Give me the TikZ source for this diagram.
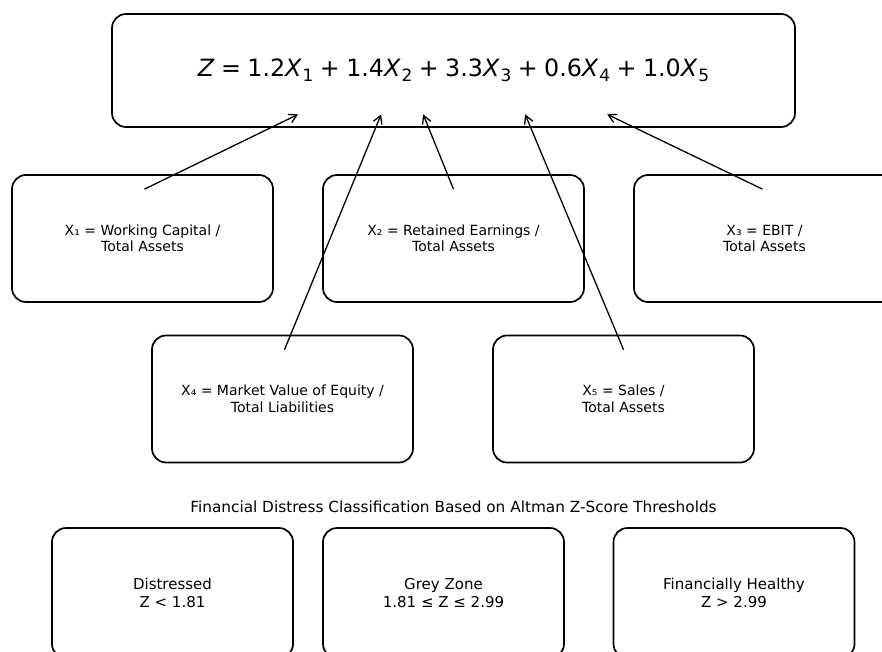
\documentclass[tikz,border=0pt]{standalone}
\usepackage{fontspec}
\setmainfont{DejaVu Sans}
\usetikzlibrary{arrows.meta,calc}
\newcommand{\Xsub}[1]{\textit{X}\kern0.03em\raisebox{-0.22em}{\fontsize{17}{17}\selectfont #1}}
\newcommand{\opsp}{\hspace{0.27em}}
\tikzset{
  box/.style={draw=black, line width=1.7pt, rounded corners=14pt, inner sep=0pt,
    align=center, font=\fontsize{14}{16.5}\selectfont},
  varbox/.style={box, minimum width=261pt, minimum height=127pt},
  zonebox/.style={box, minimum width=241pt, minimum height=130pt, font=\fontsize{15}{18}\selectfont},
  link/.style={line width=1.3pt, -{Straight Barb[length=8pt,width=9pt,line width=1.3pt]}},
}
\begin{document}
\begin{tikzpicture}[x=1pt,y=-1pt]
\useasboundingbox (0,0) rectangle (882,652);
\clip (0,0) rectangle (882,652);
% formula box
\node[box, minimum width=683pt, minimum height=113pt, font=\fontsize{23.8}{28}\selectfont] (top) at (453.5,70.5)
  {\textit{Z}\opsp=\opsp1.2\Xsub{1}\opsp+\opsp1.4\Xsub{2}\opsp+\opsp3.3\Xsub{3}\opsp+\opsp0.6\Xsub{4}\opsp+\opsp1.0\Xsub{5}};
% variable boxes
\node[varbox] (x1) at (142.5,238.5) {X₁ = Working Capital /\\Total Assets};
\node[varbox] (x2) at (453.5,238.5) {X₂ = Retained Earnings /\\Total Assets};
\node[varbox] (x3) at (764.5,238.5) {X₃ = EBIT /\\Total Assets};
\node[varbox] (x4) at (282.5,399) {X₄ = Market Value of Equity /\\Total Liabilities};
\node[varbox] (x5) at (623.5,399) {X₅ = Sales /\\Total Assets};
% title
\node[font=\fontsize{15.3}{18}\selectfont] (title) at (453.5,507) {Financial Distress Classification Based on Altman Z-Score Thresholds};
% zone boxes
\node[zonebox] (z1) at (172.5,593) {Distressed\\Z < 1.81};
\node[zonebox] (z2) at (443.5,593) {Grey Zone\\1.81 ≤ Z ≤ 2.99};
\node[zonebox] (z3) at (734,593) {Financially Healthy\\Z > 2.99};
% connector end points
\coordinate (s1) at ($(x1.north)+(2,15)$);
\coordinate (s2) at ($(x2.north)+(0,15)$);
\coordinate (s3) at ($(x3.north)+(-2,15)$);
\coordinate (s4) at ($(x4.north)+(2,15)$);
\coordinate (s5) at ($(x5.north)+(0,15)$);
\coordinate (t1) at ($(top.south west)+(187,-13.5)$);
\coordinate (t2) at ($(top.south west)+(312,-13.5)$);
\coordinate (t3) at ($(top.south west)+(496,-13.5)$);
\coordinate (t4) at ($(top.south west)+(270,-13.5)$);
\coordinate (t5) at ($(top.south west)+(414,-13.5)$);
\draw[link] (s1) -- (t1);
\draw[link] (s2) -- (t2);
\draw[link] (s3) -- (t3);
\draw[link] (s4) -- (t4);
\draw[link] (s5) -- (t5);
\end{tikzpicture}
\end{document}
